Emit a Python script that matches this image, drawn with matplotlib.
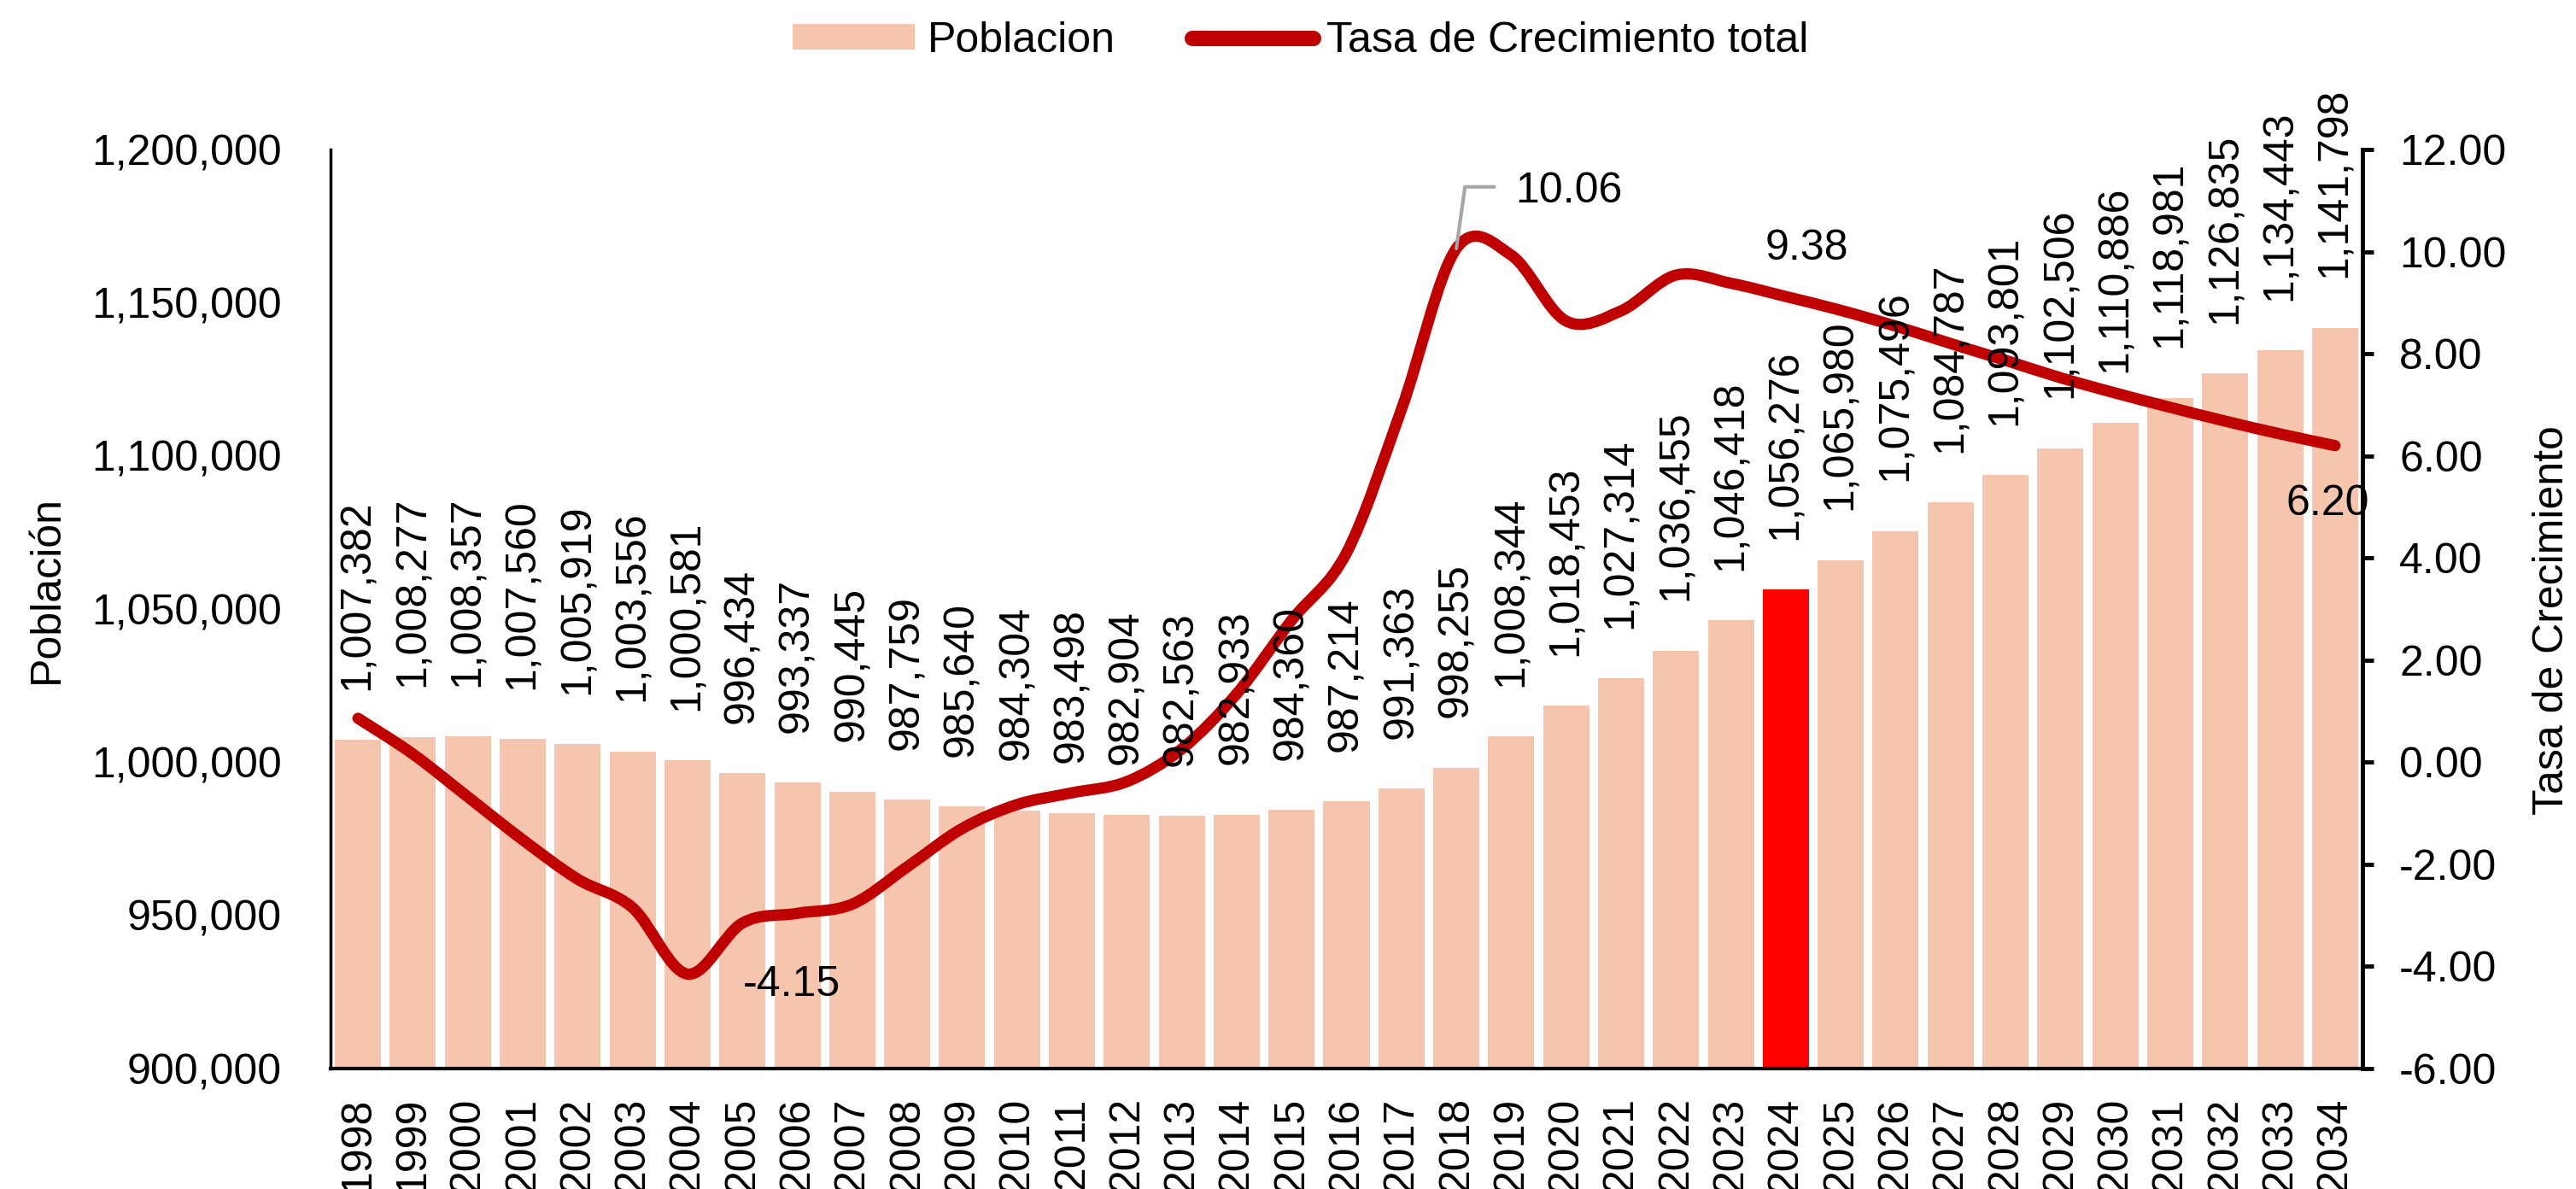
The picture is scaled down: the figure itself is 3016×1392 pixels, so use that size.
import matplotlib
matplotlib.use('Agg')
import matplotlib.pyplot as plt
from matplotlib.path import Path
from matplotlib.patches import PathPatch, Patch
from matplotlib.lines import Line2D
from matplotlib.ticker import FuncFormatter

plt.rcParams['font.family'] = ['Liberation Sans', 'DejaVu Sans']
plt.rcParams['axes.unicode_minus'] = False

# datos
anios = [1998, 1999, 2000, 2001, 2002, 2003, 2004, 2005, 2006, 2007,
         2008, 2009, 2010, 2011, 2012, 2013, 2014, 2015, 2016, 2017,
         2018, 2019, 2020, 2021, 2022, 2023, 2024, 2025, 2026, 2027,
         2028, 2029, 2030, 2031, 2032, 2033, 2034]
poblacion = [1007382, 1008277, 1008357, 1007560, 1005919, 1003556, 1000581,
             996434, 993337, 990445, 987759, 985640, 984304, 983498, 982904,
             982563, 982933, 984360, 987214, 991363, 998255, 1008344,
             1018453, 1027314, 1036455, 1046418, 1056276, 1065980, 1075496,
             1084787, 1093801, 1102506, 1110886, 1118981, 1126835, 1134443,
             1141798]
tasa = [0.86, 0.16, -0.68, -1.52, -2.29, -2.85, -4.15, -3.15, -2.96, -2.78,
        -2.05, -1.30, -0.83, -0.60, -0.38, 0.26, 1.34, 2.78, 4.10, 6.91,
        10.06, 9.93, 8.64, 8.84, 9.54, 9.38, 9.12, 8.85, 8.54, 8.20,
        7.87, 7.53, 7.23, 6.95, 6.68, 6.43, 6.20]
anio_resaltado = 2024

color_barra = '#F5C6AD'
color_resalte = '#FF0000'
color_linea = '#C00000'
fs = 36

fig = plt.figure(figsize=(30.16, 13.92), dpi=100)
ax = fig.add_axes([387 / 3016, 1 - 1251 / 1392, (2766 - 387) / 3016, (1251 - 175) / 1392])

x = list(range(len(anios)))
colores = [color_resalte if a == anio_resaltado else color_barra for a in anios]
ax.bar(x, poblacion, width=0.84, color=colores, zorder=2)
ax.set_xlim(-0.5, len(anios) - 0.5)
ax.set_ylim(900000, 1200000)
ax.set_yticks(range(900000, 1200001, 50000))
ax.yaxis.set_major_formatter(FuncFormatter(lambda v, p: f'{v:,.0f}'))
ax.set_xticks(x, [str(a) for a in anios], rotation=90)
ax.tick_params(axis='y', length=0, pad=41, labelsize=fs)
ax.tick_params(axis='x', length=0, pad=24, labelsize=fs)
ax.spines['top'].set_visible(False)
ax.spines['right'].set_visible(False)
ax.spines['left'].set_linewidth(2.5)
ax.spines['bottom'].set_linewidth(3)
ax.set_ylabel('Población', fontsize=fs)
ax.yaxis.set_label_coords(-0.130, 0.521)

ax2 = ax.twinx()
ax2.set_ylim(-6, 12)
ax2.set_yticks(range(-6, 13, 2))
ax2.yaxis.set_major_formatter(FuncFormatter(lambda v, p: f'{v:.2f}'))
ax2.tick_params(axis='y', direction='out', length=9, width=3.5, pad=22, labelsize=fs)
for s in ['top', 'left', 'bottom']:
    ax2.spines[s].set_visible(False)
ax2.spines['right'].set_linewidth(3.5)
ax2.set_ylabel('Tasa de Crecimiento', fontsize=fs, rotation=90)
ax2.yaxis.set_label_coords(1.0837, 0.488)

# linea suavizada (bezier tipo Excel)
verts = [(x[0], tasa[0])]
codes = [Path.MOVETO]
n = len(x)
for i in range(n - 1):
    p0 = (x[max(i - 1, 0)], tasa[max(i - 1, 0)])
    p1 = (x[i], tasa[i])
    p2 = (x[i + 1], tasa[i + 1])
    p3 = (x[min(i + 2, n - 1)], tasa[min(i + 2, n - 1)])
    c1 = (p1[0] + (p2[0] - p0[0]) / 6, p1[1] + (p2[1] - p0[1]) / 6)
    c2 = (p2[0] - (p3[0] - p1[0]) / 6, p2[1] - (p3[1] - p1[1]) / 6)
    verts += [c1, c2, p2]
    codes += [Path.CURVE4] * 3
curva = PathPatch(Path(verts, codes), fill=False, edgecolor=color_linea,
                  lw=9.5, capstyle='round', joinstyle='round', zorder=3)
ax2.add_patch(curva)

# etiquetas de barras
for i, p in enumerate(poblacion):
    ax2.annotate(f'{p:,}', xy=(i, p), xycoords=ax.transData, xytext=(0, 42),
                 textcoords='offset points', rotation=90, ha='center', va='bottom',
                 fontsize=fs, zorder=5)

# etiquetas de la linea
i_min = anios.index(2004)
ax2.annotate(f'{tasa[i_min]:.2f}', xy=(i_min, tasa[i_min]), xytext=(47, -9),
             textcoords='offset points', ha='left', va='center', fontsize=fs, zorder=5)
i_max = anios.index(2018)
ax2.annotate('', xy=(i_max, tasa[i_max]), xytext=(32, 52), textcoords='offset points',
             arrowprops=dict(arrowstyle='-', color='#A6A6A6', lw=3, shrinkA=0, shrinkB=0,
                             connectionstyle='angle,angleA=0,angleB=82,rad=0'))
ax2.annotate(f'{tasa[i_max]:.2f}', xy=(i_max, tasa[i_max]), xytext=(50, 48),
             textcoords='offset points', ha='left', va='center', fontsize=fs, zorder=5)
i_23 = anios.index(2023)
ax2.annotate(f'{tasa[i_23]:.2f}', xy=(i_23, tasa[i_23]), xytext=(64, 29),
             textcoords='offset points', ha='center', va='center', fontsize=fs, zorder=5)
i_fin = len(anios) - 1
ax2.annotate(f'{tasa[i_fin]:.2f}', xy=(i_fin, tasa[i_fin]), xytext=(-6, -49),
             textcoords='offset points', ha='center', va='center', fontsize=fs, zorder=5)

handles = [Patch(facecolor=color_barra, edgecolor='none', label='Poblacion'),
           Line2D([], [], color=color_linea, lw=13, solid_capstyle='round',
                  label='Tasa de Crecimiento total')]
fig.legend(handles=handles, loc='center', bbox_to_anchor=(0.505, 0.9655), ncol=2,
           frameon=False, fontsize=fs, handlelength=2.85, handleheight=0.55,
           handletextpad=0.3, columnspacing=1.8)

fig.savefig('out.png', dpi=100)
